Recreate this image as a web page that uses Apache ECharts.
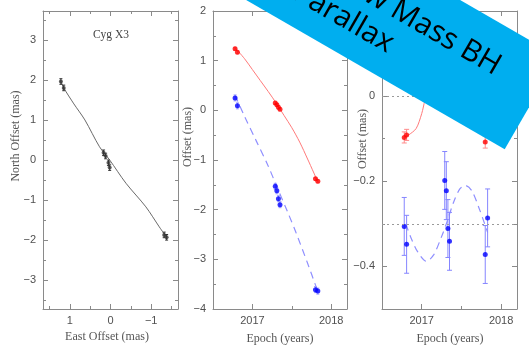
<!DOCTYPE html>
<html>
<head>
<meta charset="utf-8">
<script src="https://cdn.jsdelivr.net/npm/echarts@6/dist/echarts.min.js"></script>
<style>
  html, body { margin: 0; padding: 0; background: #fff; }
  #chart { width: 529px; height: 347px; }
</style>
</head>
<body>
<div id="chart"></div>
<script>
// ---- Observing epochs (decimal years) ----
const epochs = [2016.78, 2016.81, 2017.29, 2017.31, 2017.33, 2017.35, 2017.80, 2017.83];

// ---- Panel 1: sky track of Cyg X3 (mas) ----
const skyEast  = [1.22, 1.15, 0.17, 0.12, 0.05, 0.02, -1.32, -1.38];
const skyNorth = [1.96, 1.80, 0.18, 0.10, -0.07, -0.19, -1.87, -1.93];
const skyErr   = [0.07, 0.07, 0.07, 0.07, 0.07, 0.07, 0.07, 0.07];
const trackEast  = [1.22, 1.15, 0.90, 0.63, 0.27, 0.02, -0.38, -0.87, -1.20, -1.38];
const trackNorth = [1.96, 1.80, 1.40, 1.00, 0.33, 0.00, -0.58, -1.17, -1.67, -1.93];

// ---- Panel 2: offsets vs epoch (mas) ----
const eastOffset  = [1.24, 1.17, 0.15, 0.11, 0.06, 0.02, -1.38, -1.43];
const eastErr     = [0.03, 0.03, 0.03, 0.03, 0.03, 0.03, 0.03, 0.03];
const northOffset = [0.25, 0.09, -1.53, -1.62, -1.78, -1.90, -3.61, -3.64];
const northErr    = [0.06, 0.06, 0.06, 0.06, 0.06, 0.06, 0.06, 0.06];
const eastModelT  = [2016.78, 2016.90, 2017.00, 2017.10, 2017.20, 2017.30, 2017.40, 2017.50, 2017.60, 2017.70, 2017.83];
const eastModelV  = [1.26, 1.04, 0.82, 0.60, 0.38, 0.15, -0.10, -0.35, -0.64, -0.98, -1.44];
const northModelT = [2016.78, 2016.90, 2017.05, 2017.20, 2017.30, 2017.45, 2017.55, 2017.70, 2017.83];
const northModelV = [0.30, -0.12, -0.62, -1.12, -1.50, -2.06, -2.45, -3.08, -3.65];

// ---- Panel 3: parallax signature after removing proper motion (mas) ----
const eastResid   = [-0.097, -0.091, 0.09, 0.10, 0.09, 0.10, -0.108, -0.07];
const eastResErr  = [0.013, 0.013, 0.013, 0.013, 0.013, 0.013, 0.014, 0.013];
const northResid  = [-0.306, -0.348, -0.198, -0.222, -0.311, -0.341, -0.372, -0.286];
const northResErr = [0.068, 0.068, 0.068, 0.068, 0.068, 0.068, 0.068, 0.068];
const eastParT  = [2016.78, 2016.83, 2016.93, 2017.00, 2017.04, 2017.10, 2017.20, 2017.30, 2017.40, 2017.50, 2017.60, 2017.70, 2017.83];
const eastParV  = [-0.098, -0.092, -0.076, -0.041, -0.010, 0.030, 0.080, 0.100, 0.090, 0.050, 0.000, -0.060, -0.095];
const northParT = [2016.80, 2016.87, 2016.95, 2017.06, 2017.15, 2017.25, 2017.31, 2017.40, 2017.48, 2017.55, 2017.63, 2017.72, 2017.83];
const northParV = [-0.300, -0.335, -0.366, -0.388, -0.373, -0.330, -0.300, -0.250, -0.218, -0.210, -0.222, -0.262, -0.320];

// ---- Tick positions ----
const skyXMajor = [-1, 0, 1], skyXMinor = [-1.5, -0.5, 0.5, 1.5];
const skyYMajor = [-3, -2, -1, 0, 1, 2, 3], skyYMinor = [-3.5, -2.5, -1.5, -0.5, 0.5, 1.5, 2.5, 3.5];
const yearMajor = [2017, 2018], yearMinor = [2016.5, 2017.5];
const offYMajor = [-4, -3, -2, -1, 0, 1, 2], offYMinor = [-3.5, -2.5, -1.5, -0.5, 0.5, 1.5];
const resYMajor = [-0.4, -0.2, 0, 0.2], resYMinor = [-0.5, -0.3, -0.1, 0.1];

// ---- Styling ----
const FRAME = '#8a8a8a';
const TICK_TEXT = '#505050';
const TITLE_TEXT = '#555555';
const TICK_FONT = 'Liberation Sans';
const TITLE_FONT = '"Liberation Serif"';

const minusFmt = v => String(v).replace('-', '\u2212');

function axisSet(dim, gridIndex, range, majors, minors, inverse) {
  const base = {
    type: 'value', gridIndex, min: range[0], max: range[1], inverse: !!inverse,
    splitLine: { show: false }, axisPointer: { show: false }
  };
  const sides = dim === 'x' ? ['bottom', 'top'] : ['left', 'right'];
  const out = [];
  sides.forEach((pos, si) => {
    out.push(Object.assign({}, base, {
      position: pos,
      axisLine: { show: true, onZero: false, lineStyle: { color: FRAME, width: 1 } },
      axisTick: { show: true, inside: true, length: 5, customValues: majors, lineStyle: { color: FRAME } },
      axisLabel: si === 0 ? {
        show: true, customValues: majors, margin: dim === 'x' ? 6 : 7,
        color: TICK_TEXT, fontFamily: TICK_FONT, fontSize: 11, formatter: minusFmt
      } : { show: false }
    }));
    out.push(Object.assign({}, base, {
      position: pos,
      axisLine: { show: false, onZero: false },
      axisTick: { show: true, inside: true, length: 3, customValues: minors, lineStyle: { color: FRAME } },
      axisLabel: { show: false }
    }));
  });
  return out;
}

const zip = (a, b) => a.map((v, i) => [v, b[i]]);
const errData = (xs, ys, es) => xs.map((x, i) => [x, ys[i] - es[i], ys[i] + es[i]]);

function errorBars(gi, data, color, cap) {
  return {
    type: 'custom', xAxisIndex: 4 * gi, yAxisIndex: 4 * gi, z: 3,
    encode: { x: 0, y: [1, 2] },
    data,
    renderItem: (params, api) => {
      const x = api.value(0);
      const lo = api.coord([x, api.value(1)]);
      const hi = api.coord([x, api.value(2)]);
      const st = { stroke: color, lineWidth: 1 };
      const kids = [{ type: 'line', shape: { x1: lo[0], y1: lo[1], x2: hi[0], y2: hi[1] }, style: st }];
      if (cap) {
        kids.push({ type: 'line', shape: { x1: lo[0] - cap, y1: lo[1], x2: lo[0] + cap, y2: lo[1] }, style: st });
        kids.push({ type: 'line', shape: { x1: hi[0] - cap, y1: hi[1], x2: hi[0] + cap, y2: hi[1] }, style: st });
      }
      return { type: 'group', children: kids };
    }
  };
}

function curve(gi, xs, ys, color, width, dashed, smooth) {
  return {
    type: 'line', xAxisIndex: 4 * gi, yAxisIndex: 4 * gi, z: 2,
    data: zip(xs, ys), showSymbol: false, symbol: 'none', smooth: smooth,
    lineStyle: { color, width, type: dashed ? [7, 5] : 'solid' }
  };
}

function points(gi, xs, ys, color, size) {
  return {
    type: 'scatter', xAxisIndex: 4 * gi, yAxisIndex: 4 * gi, z: 4,
    data: zip(xs, ys), symbol: 'circle', symbolSize: size,
    itemStyle: { color }
  };
}

const chart = echarts.init(document.getElementById('chart'), null, { renderer: 'canvas' });

const titleText = (text, x, y, rot) => ({
  type: 'text', x, y, rotation: rot || 0, z: 10,
  style: { text, font: '12px ' + TITLE_FONT, fill: TITLE_TEXT, textAlign: 'center', textVerticalAlign: 'middle' }
});

const bannerFont = '30px "Open Sans"';

chart.setOption({
  animation: false,
  backgroundColor: '#ffffff',
  grid: [
    { left: 43, top: 11, width: 135, height: 298 },
    { left: 213, top: 11, width: 134, height: 298 },
    { left: 382, top: 11, width: 135, height: 298 }
  ],
  xAxis: [].concat(
    axisSet('x', 0, [-1.66, 1.66], skyXMajor, skyXMinor, true),
    axisSet('x', 1, [2016.5, 2018.2], yearMajor, yearMinor),
    axisSet('x', 2, [2016.5, 2018.2], yearMajor, yearMinor)
  ),
  yAxis: [].concat(
    axisSet('y', 0, [-3.72, 3.72], skyYMajor, skyYMinor),
    axisSet('y', 1, [-4, 2], offYMajor, offYMinor),
    axisSet('y', 2, [-0.5, 0.2], resYMajor, resYMinor)
  ),
  series: [
    // sky track
    curve(0, trackEast, trackNorth, '#6a6a6a', 1, false, 0.3),
    errorBars(0, errData(skyEast, skyNorth, skyErr), '#333333', 1.5),
    points(0, skyEast, skyNorth, '#333333', 4),

    // offsets vs time
    curve(1, eastModelT, eastModelV, '#ff7a7a', 1, false, 0.3),
    curve(1, northModelT, northModelV, '#8f8fff', 1.2, true, 0.3),
    errorBars(1, errData(epochs, eastOffset, eastErr), '#ff9a9a', 1.5),
    errorBars(1, errData(epochs, northOffset, northErr), '#9a9aff', 1.5),
    points(1, epochs, eastOffset, '#ff0000', 5),
    points(1, epochs, northOffset, '#0000ff', 5),

    // parallax signature
    Object.assign(curve(2, eastParT, eastParV, '#ff7a7a', 1, false, 0.3), {
      markLine: {
        silent: true, symbol: ['none', 'none'], label: { show: false },
        lineStyle: { color: '#9a9a9a', type: [2, 3], width: 1 },
        data: [{ yAxis: 0 }, { yAxis: -0.3 }]
      }
    }),
    curve(2, northParT, northParV, '#8f8fff', 1.2, true, 0.3),
    errorBars(2, errData(epochs, eastResid, eastResErr), '#ff8a8a', 2.5),
    errorBars(2, errData(epochs, northResid, northResErr), '#8585ff', 2.5),
    points(2, epochs, eastResid, '#ff0000', 5),
    points(2, epochs, northResid, '#0000ff', 5)
  ],
  graphic: [
    titleText('North Offset (mas)', 16, 136, Math.PI / 2),
    titleText('East Offset (mas)', 107, 337),
    titleText('Offset (mas)', 188, 137, Math.PI / 2),
    titleText('Epoch (years)', 280, 339),
    titleText('Offset (mas)', 363, 139, Math.PI / 2),
    titleText('Epoch (years)', 450, 339),
    {
      type: 'text', x: 111, y: 35, z: 10,
      style: { text: 'Cyg X3', font: '11.5px ' + TITLE_FONT, fill: '#444', textAlign: 'center', textVerticalAlign: 'middle' }
    },
    // rotated headline banner, on its own layer above the plots
    {
      type: 'group', x: 504.7, y: 149.3, rotation: -Math.PI / 6, zlevel: 5, z: 100,
      children: [
        { type: 'rect', zlevel: 5, z: 100, shape: { x: -720, y: -107, width: 720, height: 107 }, style: { fill: '#00AEEF' } },
        { type: 'text', zlevel: 5, z: 101, x: -46, y: -67,
          style: { text: 'Low Mass BH', font: bannerFont, fill: '#000', textAlign: 'right', textVerticalAlign: 'middle' } },
        { type: 'text', zlevel: 5, z: 101, x: -150, y: -33,
          style: { text: 'Parallax', font: bannerFont, fill: '#000', textAlign: 'right', textVerticalAlign: 'middle' } }
      ]
    }
  ]
});
</script>
</body>
</html>
